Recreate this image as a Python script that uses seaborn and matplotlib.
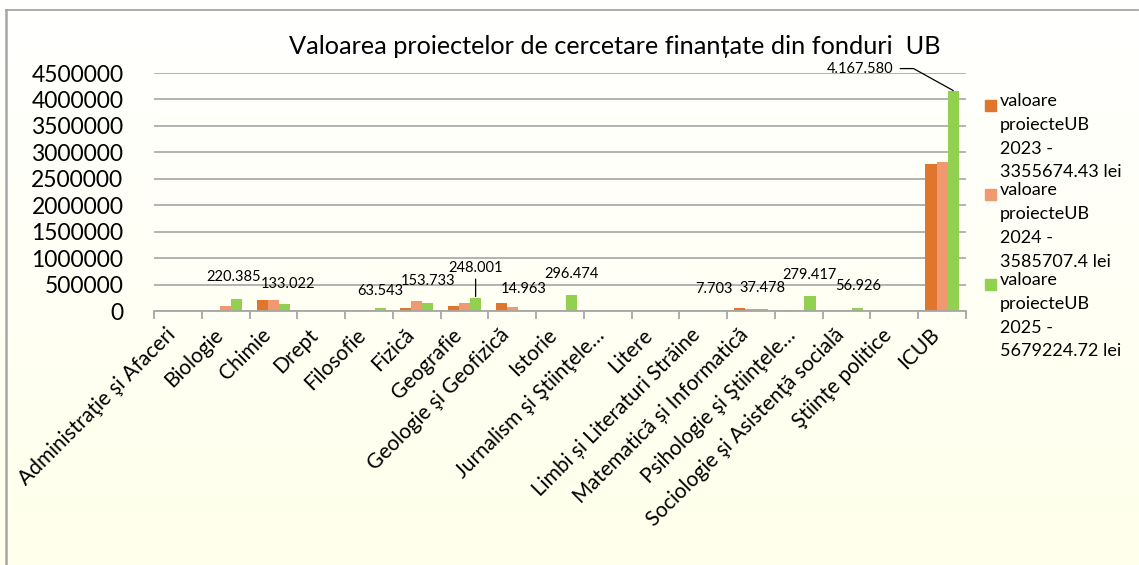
import numpy as np
import pandas as pd
import seaborn as sns
import matplotlib.pyplot as plt
import matplotlib.transforms as mtransforms
from matplotlib.patches import Rectangle
from matplotlib.lines import Line2D

facultati = ['Administraţie şi Afaceri', 'Biologie', 'Chimie', 'Drept', 'Filosofie', 'Fizică',
             'Geografie', 'Geologie şi Geofizică', 'Istorie', 'Jurnalism şi Ştiinţele…', 'Litere',
             'Limbi și Literaturi Străine', 'Matematică și Informatică', 'Psihologie şi Ştiinţele…',
             'Sociologie şi Asistenţă socială', 'Ştiinţe politice', 'ICUB']

# values (2025 values are the data labels)
valori_2023 = [0, 0, 200000, 0, 0, 50000, 90000, 160000, 0, 0, 0, 3000, 60000, 15000, 0, 0, 2777000]
valori_2024 = [0, 90000, 200000, 0, 10000, 180000, 160000, 70000, 0, 0, 0, 4000, 45000, 5000, 0, 0, 2820000]
valori_2025 = [0, 220385, 133022, 0, 63543, 153733, 248001, 14963, 296474, 0, 0, 7703, 37478,
               279417, 56926, 0, 4167580]

serii = ['valoare\nproiecteUB\n2023 -\n3355674.43 lei',
         'valoare\nproiecteUB\n2024 -\n3585707.4 lei',
         'valoare\nproiecteUB\n2025 -\n5679224.72 lei']
culori = ['#E0752D', '#F0996F', '#92D050']

df = pd.DataFrame({
    'facultate': facultati * 3,
    'valoare': valori_2023 + valori_2024 + valori_2025,
    'serie': [serii[0]] * 17 + [serii[1]] * 17 + [serii[2]] * 17,
})

plt.rcParams['font.family'] = ['Lato', 'DejaVu Sans']

fig = plt.figure(figsize=(11.39, 5.65), dpi=100)

# background gradient white -> light yellow
bg = fig.add_axes([0, 0, 1, 1], zorder=-10)
grad = np.linspace(0, 1, 256).reshape(-1, 1)
top = np.array([1.0, 1.0, 1.0])
bottom = np.array([1.0, 1.0, 235 / 255])
img = top + (bottom - top) * grad[:, :, None]
bg.imshow(img, aspect='auto', extent=[0, 1, 0, 1])
bg.axis('off')
fig.add_artist(Line2D([6 / 1139, 1138 / 1139], [1 - 10 / 565, 1 - 10 / 565], color='#A6A6A6', lw=1.3))
fig.add_artist(Line2D([6 / 1139, 6 / 1139], [0, 1 - 10 / 565], color='#A6A6A6', lw=1.8))

ax = fig.add_axes([154 / 1139, 1 - 311 / 565, (966 - 154) / 1139, (311 - 73) / 565])
ax.set_facecolor('none')
sns.barplot(data=df, x='facultate', y='valoare', hue='serie', palette=culori, width=0.7,
            gap=0, ax=ax, legend=False, saturation=1, errorbar=None)

ax.set_ylim(0, 4500000)
ax.set_xlim(-0.5, 16.5)
ax.set_yticks(np.arange(0, 4500001, 500000))
ax.set_yticklabels([str(v) for v in range(0, 4500001, 500000)], fontsize=16.5)
ax.yaxis.grid(True, color='#A6A6A6', lw=1.2)
ax.set_axisbelow(True)
for s in ['top', 'right', 'left']:
    ax.spines[s].set_visible(False)
ax.spines['bottom'].set_color('#A6A6A6')
ax.spines['bottom'].set_linewidth(1.3)
ax.tick_params(axis='y', length=0, pad=22)
ax.tick_params(axis='x', which='major', length=0, pad=10)
ax.set_xticks(np.arange(-0.5, 17, 1), minor=True)
ax.tick_params(axis='x', which='minor', length=6, color='#A6A6A6', width=1.3)
ax.set_xticklabels(facultati, rotation=45, ha='right', rotation_mode='anchor', fontsize=15)
shift = mtransforms.ScaledTranslation(-13 / 100, 0, fig.dpi_scale_trans)
for t in ax.get_xticklabels():
    t.set_transform(t.get_transform() + shift)
ax.set_xlabel('')
ax.set_ylabel('')

# data labels for the 2025 series
off = 0.7 / 3
fs = 10.5
for i, v in enumerate(valori_2025):
    if v == 0:
        continue
    lbl = f'{v:,}'.replace(',', '.')
    x = i + off
    if facultati[i] == 'Geografie':
        ax.annotate(lbl, xy=(x, v), xytext=(0, 30 * 0.72), textcoords='offset points',
                    ha='center', va='center', fontsize=fs,
                    arrowprops=dict(arrowstyle='-', color='black', lw=0.9, shrinkA=1, shrinkB=1))
    elif facultati[i] == 'ICUB':
        ax.annotate(lbl, xy=(x, v), xytext=(-60 * 0.72, 22 * 0.72), textcoords='offset points',
                    ha='right', va='center', fontsize=fs,
                    arrowprops=dict(arrowstyle='-', color='black', lw=0.9, shrinkA=3, shrinkB=0,
                                    connectionstyle='angle,angleA=0,angleB=151,rad=0'))
    else:
        dx, dy = 0, 21.5
        if facultati[i] == 'Filosofie':
            dy = 17
        if facultati[i] == 'Chimie':
            dx, dy = 3, 20
        if facultati[i] == 'Biologie':
            dx, dy = -3, 22
        ax.annotate(lbl, xy=(x, v), xytext=(dx * 0.72, dy * 0.72), textcoords='offset points',
                    ha='center', va='center', fontsize=fs)

fig.text(615 / 1139, 1 - 47 / 565, 'Valoarea proiectelor de cercetare finanțate din fonduri  UB',
         ha='center', va='center', fontsize=18.2)

# legend, drawn at the right like in the original
for k, (serie, c) in enumerate(zip(serii, culori)):
    y0 = 105 + k * 89.5
    fig.add_artist(Rectangle((985 / 1139, 1 - (y0 + 5.5) / 565), 11 / 1139, 11 / 565,
                             color=c, transform=fig.transFigure))
    fig.text(1000 / 1139, 1 - (y0 - 12) / 565, serie, ha='left', va='top', fontsize=13,
             linespacing=1.6)

fig.savefig('out.png', dpi=100)
